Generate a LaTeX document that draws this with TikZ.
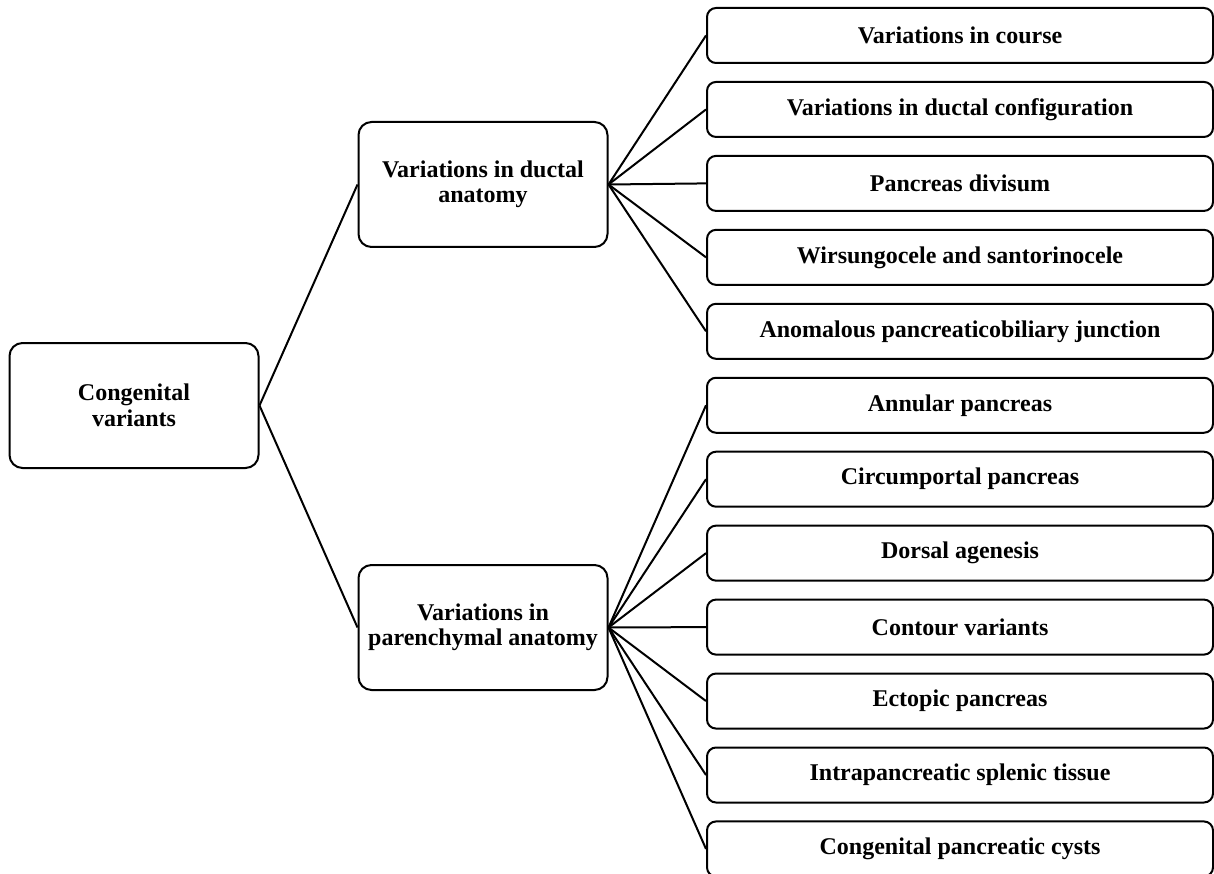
\documentclass[tikz,border=0pt]{standalone}
\usepackage{fontspec}
\setmainfont{Liberation Serif}
\begin{document}
\begin{tikzpicture}[x=1pt,y=-1pt,
  box/.style={draw=black,line width=2pt,rounded corners=9pt,align=center,
    font=\bfseries\fontsize{24}{25.5}\selectfont,inner sep=0pt},
  bigbox/.style={box,rounded corners=13pt,minimum width=249pt,minimum height=125pt},
  leaf/.style={box,minimum width=506pt,minimum height=55pt},
  link/.style={draw=black,line width=2pt}]
\useasboundingbox (0,0) rectangle (1214,874);
\clip (0,0) rectangle (1214,874);
\fill[white] (0,0) rectangle (1214,874);
\node[bigbox] (root) at (134,405.5) {Congenital\\variants};
\node[bigbox] (duct) at (483,184.5) {Variations in ductal\\anatomy};
\node[bigbox] (par) at (483,627.5) {Variations in\\parenchymal anatomy};
\node[leaf] (l1) at (960,35.5) {Variations in course};
\node[leaf] (l2) at (960,109.45) {Variations in ductal configuration};
\node[leaf] (l3) at (960,183.4) {Pancreas divisum};
\node[leaf] (l4) at (960,257.35) {Wirsungocele and santorinocele};
\node[leaf] (l5) at (960,331.3) {Anomalous pancreaticobiliary junction};
\node[leaf] (l6) at (960,405.25) {Annular pancreas};
\node[leaf] (l7) at (960,479.2) {Circumportal pancreas};
\node[leaf] (l8) at (960,553.15) {Dorsal agenesis};
\node[leaf] (l9) at (960,627.1) {Contour variants};
\node[leaf] (l10) at (960,701.05) {Ectopic pancreas};
\node[leaf] (l11) at (960,775) {Intrapancreatic splenic tissue};
\node[leaf] (l12) at (960,848.95) {Congenital pancreatic cysts};
\draw[link] (root.east) -- (duct.west);
\draw[link] (root.east) -- (par.west);
\foreach \i in {1,...,5} \draw[link] (duct.east) -- (l\i.west);
\foreach \i in {6,...,12} \draw[link] (par.east) -- (l\i.west);
\end{tikzpicture}
\end{document}
